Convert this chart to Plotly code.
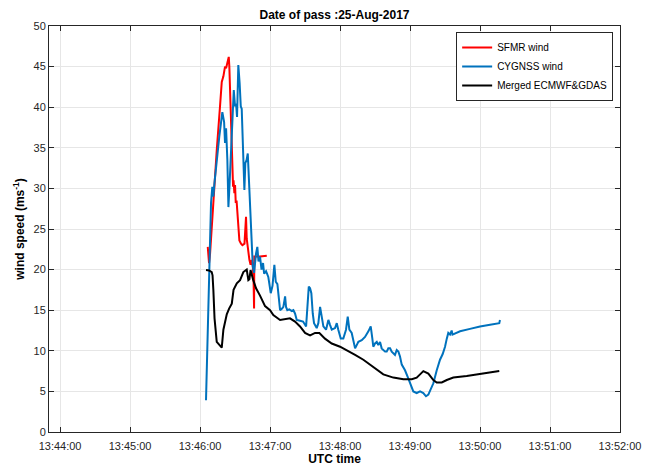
import pandas as pd
import plotly.graph_objects as go

BASE = pd.Timestamp("2017-08-25 13:44:00")

# seconds after 13:44:00 and wind speed (m/s)
sfmr_sec = [126.6, 127.7, 128.6, 130.3, 132.0, 134.3, 137.1, 138.6, 140.0, 141.4, 142.3, 143.4,
            144.6, 145.1, 145.7, 146.6, 147.2, 148.3, 148.7, 149.4, 150.0, 150.6, 151.3, 152.0,
            152.8, 153.7, 155.1, 156.3, 158.1, 159.0, 159.4, 160.0, 160.9, 162.3, 163.3, 164.3,
            165.2, 165.9, 166.3, 166.5, 171.4, 177.2]
sfmr_wind = [22.8, 20.8, 22.0, 26.0, 29.8, 34.7, 40.1, 43.1, 43.8, 45.0, 44.8, 45.4,
             46.2, 45.0, 41.7, 36.8, 33.5, 30.2, 31.0, 29.4, 30.4, 28.2, 28.5, 26.9,
             26.5, 23.6, 23.2, 23.0, 23.2, 25.5, 26.5, 23.8, 22.6, 21.2, 20.6, 21.2,
             20.4, 18.5, 15.2, 21.6, 21.6, 21.7]

cygnss_sec = [125.1, 127.7, 128.6, 129.4, 130.5, 131.4, 132.3, 134.3, 136.5, 139.1, 140.6, 141.4,
              142.3, 143.4, 144.3, 145.3, 147.2, 148.0, 148.9, 150.0, 150.9, 151.7, 152.8, 153.9,
              154.9, 155.7, 156.9, 158.0, 158.8, 159.9, 160.9, 161.6, 162.9, 163.7, 165.2, 166.3,
              167.1, 168.0, 169.1, 170.1, 171.4, 172.7, 174.0, 174.9, 176.6, 178.5, 180.6, 182.1,
              183.7, 184.9, 186.3, 188.6, 190.3, 191.4, 192.9, 193.7, 194.8, 196.5, 198.6, 200.0,
              201.4, 202.9, 205.7, 208.3, 210.9, 212.0, 213.2, 214.3, 215.4, 216.6, 217.7, 220.0,
              221.4, 222.9, 224.3, 225.7, 228.0, 230.0, 231.4, 232.9, 235.7, 237.2, 238.5, 240.6,
              242.8, 245.1, 246.6, 248.0, 250.0, 251.4, 252.9, 254.3, 255.7, 258.6, 261.4, 264.3,
              266.3, 267.7, 268.5, 270.0, 271.5, 272.8, 274.3, 275.7, 278.6, 280.0, 281.4, 282.9,
              284.3, 287.1, 288.6, 290.0, 291.4, 292.9, 295.7, 298.5, 301.5, 302.8, 305.7, 308.6,
              311.4, 313.7, 315.7, 317.1, 320.0, 322.9, 325.7, 328.0, 330.0, 331.5, 332.8, 334.3,
              335.7, 336.4, 342.9, 351.4, 360.0, 368.6, 376.5, 377.1]
cygnss_wind = [3.9, 20.0, 25.7, 28.2, 30.2, 29.0, 30.6, 33.5, 36.4, 39.4, 38.2, 35.6,
               37.4, 33.5, 27.7, 30.5, 36.8, 38.0, 42.1, 40.1, 40.4, 38.8, 45.2, 43.0,
               40.1, 39.8, 34.7, 29.8, 33.1, 33.5, 34.3, 32.0, 29.0, 25.3, 20.4, 19.6,
               21.4, 22.0, 22.8, 21.0, 21.6, 20.0, 20.8, 19.5, 19.8, 19.1, 17.1, 18.0,
               20.6, 18.5, 18.2, 15.0, 15.2, 15.4, 16.7, 15.4, 15.0, 15.1, 14.9, 15.0,
               14.6, 13.8, 13.7, 13.6, 13.0, 15.8, 17.9, 17.7, 17.1, 14.6, 13.4, 12.8,
               13.4, 15.4, 14.4, 13.0, 12.6, 13.8, 13.2, 12.6, 12.8, 13.4, 12.6, 11.5,
               11.5, 12.6, 14.2, 12.6, 12.2, 11.3, 10.3, 10.7, 11.1, 11.3, 11.7, 12.4,
               13.0, 11.5, 10.5, 10.9, 11.1, 10.7, 11.1, 10.3, 9.9, 9.9, 10.3, 10.3,
               9.9, 9.5, 10.1, 9.9, 9.3, 8.3, 7.6, 6.6, 5.6, 5.0, 4.8, 5.0,
               4.8, 4.4, 4.6, 5.0, 6.0, 7.6, 8.9, 9.6, 10.5, 11.5, 12.2, 12.0,
               12.5, 12.0, 12.4, 12.7, 13.0, 13.2, 13.4, 13.8]

merged_sec = [125.1, 127.7, 130.0, 130.7, 131.4, 132.4, 134.3, 136.3, 138.6, 140.0, 142.9, 144.9,
              147.2, 148.7, 151.5, 154.3, 157.1, 160.0, 161.4, 162.3, 163.3, 165.4, 168.0, 171.4,
              175.7, 180.0, 182.8, 188.6, 194.3, 197.1, 201.4, 205.7, 210.0, 214.3, 218.6, 222.3,
              227.1, 232.9, 240.0, 245.7, 252.9, 260.0, 265.7, 271.5, 277.1, 285.7, 294.3, 301.5,
              305.7, 308.6, 311.4, 315.7, 320.0, 322.9, 327.2, 331.5, 337.1, 348.6, 362.8, 376.5]
merged_wind = [19.95, 19.9, 19.7, 19.3, 17.5, 14.0, 11.1, 10.8, 10.4, 12.6, 14.5, 15.2,
               15.8, 17.5, 18.3, 18.7, 19.7, 20.0, 18.7, 18.8, 19.95, 18.8, 17.7, 16.8,
               15.5, 15.0, 14.4, 13.8, 13.9, 14.0, 13.6, 13.0, 12.2, 11.9, 12.2, 12.2,
               11.5, 10.9, 10.5, 10.1, 9.5, 8.9, 8.3, 7.6, 7.1, 6.7, 6.5, 6.5,
               6.7, 7.1, 7.5, 7.2, 6.4, 6.1, 6.1, 6.4, 6.7, 6.9, 7.2, 7.5]

tick_times = ["13:44:00", "13:45:00", "13:46:00", "13:47:00", "13:48:00",
              "13:49:00", "13:50:00", "13:51:00", "13:52:00"]
y_ticks = [0, 5, 10, 15, 20, 25, 30, 35, 40, 45, 50]


def to_time(secs):
    return [BASE + pd.Timedelta(seconds=s) for s in secs]


fig = go.Figure()
fig.add_trace(go.Scatter(x=to_time(sfmr_sec), y=sfmr_wind, mode="lines", name="SFMR wind",
                         line=dict(color="#ff0000", width=2)))
fig.add_trace(go.Scatter(x=to_time(cygnss_sec), y=cygnss_wind, mode="lines", name="CYGNSS wind",
                         line=dict(color="#0072bd", width=2)))
fig.add_trace(go.Scatter(x=to_time(merged_sec), y=merged_wind, mode="lines",
                         name="Merged ECMWF&GDAS", line=dict(color="#000000", width=2)))

tickvals = [pd.Timestamp("2017-08-25 " + t) for t in tick_times]
font_fam = "Liberation Sans, Arial, sans-serif"

# the page body adds an 8 px offset, so the figure is sized to end at the window edge
FIG_W, FIG_H = 649, 458

fig.update_layout(
    width=FIG_W, height=FIG_H,
    margin=dict(l=41, r=37, t=18, b=34),
    paper_bgcolor="white", plot_bgcolor="white",
    font=dict(family=font_fam, size=11, color="#262626"),
    title=dict(text="<b>Date of pass :25-Aug-2017</b>", x=(41 + 612) / 2 / FIG_W, xanchor="center",
               xref="container", yref="container",
               y=1 - 7 / FIG_H, yanchor="middle", font=dict(size=12, color="#000000")),
    showlegend=True,
    legend=dict(x=0.988, y=0.985, xanchor="right", yanchor="top",
                bgcolor="white", bordercolor="#262626", borderwidth=1,
                font=dict(size=10, color="#000000"), tracegroupgap=0,
                itemwidth=30),
    xaxis=dict(
        range=[pd.Timestamp("2017-08-25 13:43:50.5"), pd.Timestamp("2017-08-25 13:52:00")],
        tickvals=tickvals, ticktext=tick_times, automargin=False,
        showgrid=True, gridcolor="#e6e6e6", gridwidth=1,
        showline=True, linecolor="#262626", linewidth=1, mirror="ticks",
        ticks="inside", ticklen=5, tickcolor="#262626", ticklabelstandoff=4,
        zeroline=False,
        title=dict(text="<b>UTC time</b>", font=dict(size=12, color="#000000"), standoff=2),
    ),
    yaxis=dict(
        range=[0, 50], tickvals=y_ticks, automargin=False,
        showgrid=True, gridcolor="#e6e6e6", gridwidth=1,
        showline=True, linecolor="#262626", linewidth=1, mirror="ticks",
        ticks="inside", ticklen=5, tickcolor="#262626",
        zeroline=False,
        title=dict(text="<b>wind speed (ms<sup>-1</sup>)</b>", font=dict(size=12, color="#000000"),
                   standoff=6),
    ),
)

fig.write_html("out.html")
